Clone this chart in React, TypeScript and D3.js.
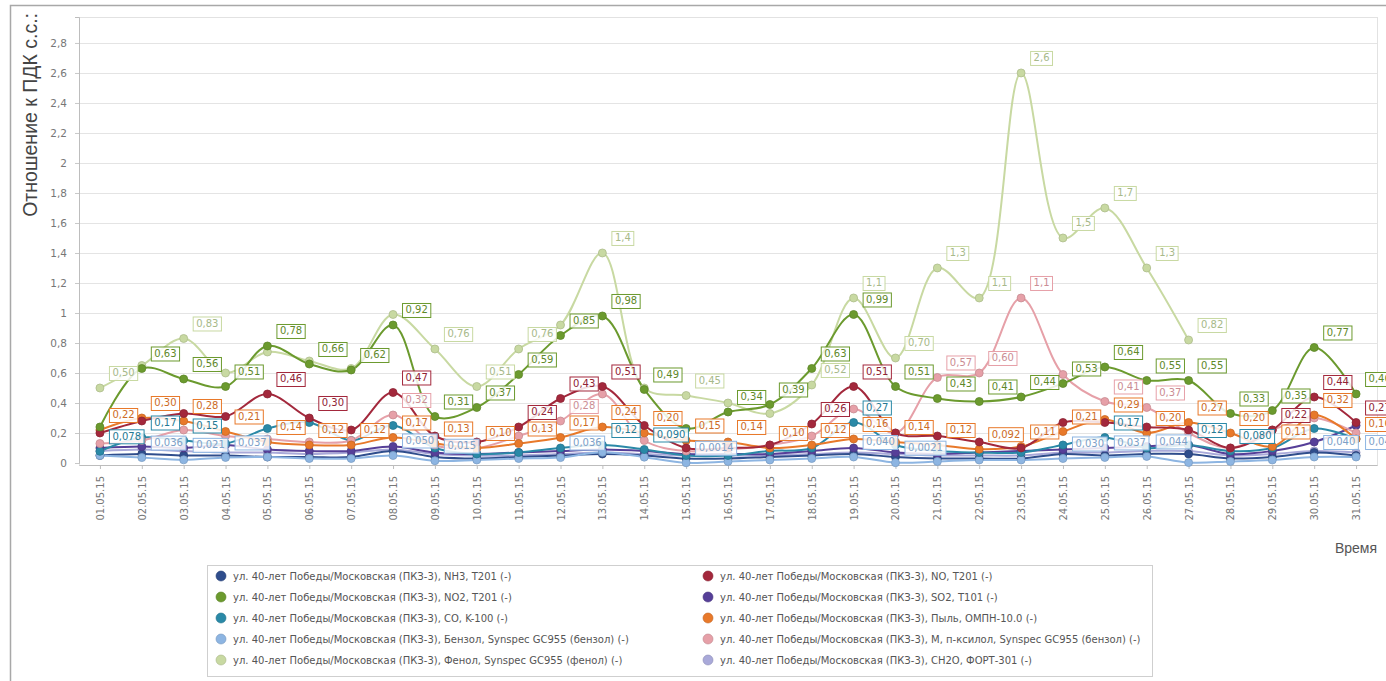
import React, { useEffect, useRef } from 'react';
import * as d3 from 'd3';

// x categories (days of May 2015)
const dates = [
  '01.05.15', '02.05.15', '03.05.15', '04.05.15', '05.05.15', '06.05.15', '07.05.15', '08.05.15',
  '09.05.15', '10.05.15', '11.05.15', '12.05.15', '13.05.15', '14.05.15', '15.05.15', '16.05.15',
  '17.05.15', '18.05.15', '19.05.15', '20.05.15', '21.05.15', '22.05.15', '23.05.15', '24.05.15',
  '25.05.15', '26.05.15', '27.05.15', '28.05.15', '29.05.15', '30.05.15', '31.05.15'
];

// ratio to MPC per substance
const nh3 = [0.05, 0.06, 0.05, 0.05, 0.04, 0.04, 0.04, 0.08, 0.04, 0.03, 0.04, 0.05, 0.06, 0.05, 0.03, 0.03, 0.04, 0.05, 0.06, 0.04, 0.03, 0.03, 0.03, 0.06, 0.05, 0.06, 0.06, 0.03, 0.04, 0.07, 0.05];
const no = [0.20, 0.28, 0.33, 0.31, 0.46, 0.30, 0.22, 0.47, 0.18, 0.14, 0.24, 0.43, 0.51, 0.25, 0.10, 0.10, 0.12, 0.26, 0.51, 0.20, 0.18, 0.14, 0.10, 0.27, 0.27, 0.24, 0.22, 0.10, 0.22, 0.44, 0.27];
const no2 = [0.24, 0.63, 0.56, 0.51, 0.78, 0.66, 0.62, 0.92, 0.31, 0.37, 0.59, 0.85, 0.98, 0.49, 0.23, 0.34, 0.39, 0.63, 0.99, 0.51, 0.43, 0.41, 0.44, 0.53, 0.64, 0.55, 0.55, 0.33, 0.35, 0.77, 0.46];
const so2 = [0.10, 0.11, 0.10, 0.12, 0.09, 0.08, 0.08, 0.11, 0.07, 0.06, 0.07, 0.08, 0.09, 0.08, 0.06, 0.06, 0.06, 0.08, 0.10, 0.07, 0.06, 0.07, 0.08, 0.09, 0.10, 0.11, 0.12, 0.06, 0.08, 0.14, 0.25];
const co = [0.078, 0.17, 0.15, 0.13, 0.23, 0.27, 0.15, 0.25, 0.10, 0.06, 0.07, 0.10, 0.12, 0.09, 0.05, 0.05, 0.08, 0.10, 0.27, 0.12, 0.08, 0.07, 0.07, 0.12, 0.17, 0.10, 0.12, 0.08, 0.10, 0.23, 0.16];
const dust = [0.22, 0.30, 0.28, 0.21, 0.14, 0.12, 0.12, 0.17, 0.13, 0.10, 0.13, 0.17, 0.24, 0.20, 0.15, 0.14, 0.10, 0.12, 0.16, 0.14, 0.12, 0.092, 0.11, 0.21, 0.29, 0.20, 0.27, 0.20, 0.11, 0.32, 0.16];
const benzene = [0.05, 0.036, 0.021, 0.037, 0.04, 0.03, 0.03, 0.05, 0.015, 0.02, 0.03, 0.036, 0.071, 0.039, 0.0014, 0.01, 0.02, 0.03, 0.04, 0.0021, 0.01, 0.02, 0.02, 0.030, 0.037, 0.044, 0.0031, 0.01, 0.02, 0.04, 0.04];
const xylene = [0.13, 0.15, 0.22, 0.18, 0.16, 0.14, 0.15, 0.32, 0.12, 0.10, 0.18, 0.28, 0.46, 0.15, 0.08, 0.09, 0.12, 0.18, 0.36, 0.20, 0.57, 0.60, 1.1, 0.59, 0.41, 0.37, 0.20, 0.10, 0.22, 0.30, 0.20];
const phenol = [0.50, 0.65, 0.83, 0.60, 0.74, 0.68, 0.63, 0.99, 0.76, 0.51, 0.76, 0.92, 1.4, 0.50, 0.45, 0.40, 0.33, 0.52, 1.1, 0.70, 1.3, 1.1, 2.6, 1.5, 1.7, 1.3, 0.82, null, null, null, null];
const ch2o = [0.08, 0.09, 0.08, 0.07, 0.07, 0.06, 0.07, 0.09, 0.06, 0.05, 0.05, 0.06, 0.07, 0.06, 0.05, 0.05, 0.05, 0.06, 0.07, 0.06, 0.05, 0.05, 0.05, 0.07, 0.07, 0.08, 0.08, 0.05, 0.06, 0.08, 0.07];

const prefix = 'ул. 40-лет Победы/Московская (ПКЗ-3), ';
const series = [
  { name: 'NH3, T201 (-)', values: nh3, color: '#2f4d8c' },
  { name: 'NO, T201 (-)', values: no, color: '#a3283c' },
  { name: 'NO2, T201 (-)', values: no2, color: '#6b9a2e' },
  { name: 'SO2, T101 (-)', values: so2, color: '#563f98' },
  { name: 'CO, K-100 (-)', values: co, color: '#2a89a7' },
  { name: 'Пыль, ОМПН-10.0 (-)', values: dust, color: '#e8792a' },
  { name: 'Бензол, Synspec GC955 (бензол) (-)', values: benzene, color: '#8db5e2' },
  { name: 'М, п-ксилол, Synspec GC955 (бензол) (-)', values: xylene, color: '#e6a0a8' },
  { name: 'Фенол, Synspec GC955 (фенол) (-)', values: phenol, color: '#c8d9a2' },
  { name: 'CH2O, ФОРТ-301 (-)', values: ch2o, color: '#a9a9d9' }
];

// legend is laid out column by column
const legendOrder = [0, 2, 4, 6, 8, 1, 3, 5, 7, 9];
// value labels: earlier series win when boxes collide
const labelOrder = [5, 2, 8, 1, 4, 7, 6, 3, 9, 0];
const drawOrder = [9, 0, 3, 6, 4, 7, 5, 1, 8, 2];

const locale = d3.formatLocale({ decimal: ',', thousands: ' ', grouping: [3], currency: ['', ''] });
const fmtTick = locale.format('.2~r');
const fmtLabel = locale.format('.2r');

const W = 1386;
const H = 681;
const plot = { left: 79, right: 1377, top: 17, bottom: 463 };
const yMax = 2.973;

const App = () => {
  const ref = useRef<SVGSVGElement>(null);

  useEffect(() => {
    const svg = d3.select(ref.current);
    svg.selectAll('*').remove();

    const x = d3.scalePoint<string>().domain(dates).range([plot.left, plot.right]).padding(0.5);
    const y = d3.scaleLinear().domain([0, yMax]).range([plot.bottom, plot.top]);

    // outer frame
    svg.append('path')
      .attr('d', `M10.5,${H} V5.5 H${W}`)
      .attr('fill', 'none')
      .attr('stroke', '#a8a8a8')
      .attr('stroke-width', 1.5);

    // plot box + grid
    svg.append('rect')
      .attr('x', plot.left + 0.5).attr('y', plot.top + 0.5)
      .attr('width', plot.right - plot.left).attr('height', plot.bottom - plot.top + 2)
      .attr('fill', 'none').attr('stroke', '#e2e2e2');

    const yTicks = y.ticks(15);
    svg.append('g').selectAll('line').data(yTicks.filter(t => t > 0)).join('line')
      .attr('x1', plot.left).attr('x2', plot.right)
      .attr('y1', d => Math.round(y(d)) + 0.5).attr('y2', d => Math.round(y(d)) + 0.5)
      .attr('stroke', '#e4e4e4');

    // y axis
    const yAxis = svg.append('g').attr('transform', `translate(${plot.left},0)`)
      .call(d3.axisLeft(y).tickValues(yTicks).tickFormat(d => fmtTick(d as number)).tickSize(4).tickPadding(8));
    yAxis.select('.domain').attr('stroke', '#bdbdbd');
    yAxis.selectAll('.tick line').attr('stroke', '#c8c8c8');
    yAxis.selectAll('.tick text').attr('fill', '#777').style('font', '10.5px "DejaVu Sans"');

    // x axis
    const xAxis = svg.append('g').attr('transform', `translate(0,${plot.bottom + 2})`)
      .call(d3.axisBottom(x).tickSize(4).tickSizeOuter(0));
    xAxis.select('.domain').attr('stroke', '#bdbdbd');
    xAxis.selectAll('.tick line').attr('stroke', '#bdbdbd');
    xAxis.selectAll('.tick text')
      .attr('fill', '#777')
      .style('font', '10px "DejaVu Sans"')
      .attr('text-anchor', 'end')
      .attr('transform', 'rotate(-90)')
      .attr('x', -11).attr('y', 0).attr('dy', '0.35em');

    // axis titles
    svg.append('text')
      .attr('transform', 'translate(37,13) rotate(-90)')
      .attr('text-anchor', 'end')
      .attr('fill', '#444')
      .style('font', '19.5px "Liberation Sans"')
      .text('Отношение к ПДК с.с.:');
    svg.append('text')
      .attr('x', plot.right).attr('y', 553)
      .attr('text-anchor', 'end')
      .attr('fill', '#555')
      .style('font', '14px "Liberation Sans"')
      .text('Время');

    // lines
    const line = d3.line<number | null>()
      .defined(d => d != null)
      .x((d, i) => x(dates[i]) as number)
      .y(d => y(d as number))
      .curve(d3.curveCatmullRom.alpha(0.5));

    const linesG = svg.append('g');
    drawOrder.forEach(si => {
      const s = series[si];
      linesG.append('path')
        .attr('d', line(s.values))
        .attr('fill', 'none')
        .attr('stroke', s.color)
        .attr('stroke-width', 2);
    });
    drawOrder.forEach(si => {
      const s = series[si];
      linesG.append('g').selectAll('circle')
        .data(s.values.map((v, i) => ({ v, i })).filter(d => d.v != null))
        .join('circle')
        .attr('cx', d => x(dates[d.i]) as number)
        .attr('cy', d => y(d.v as number))
        .attr('r', 4)
        .attr('fill', s.color)
        .attr('stroke', d3.color(s.color)!.darker(0.4).toString())
        .attr('stroke-width', 0.8);
    });

    // point labels, skipping ones that would collide
    const pad = 2;
    const placed: { x0: number; y0: number; x1: number; y1: number }[] = [];
    const labelsG = svg.append('g');
    labelOrder.forEach(si => {
      const s = series[si];
      s.values.forEach((v, i) => {
        if (v == null) return;
        const px = x(dates[i]) as number;
        const py = y(v);
        const g = labelsG.append('g');
        const rect = g.append('rect');
        const t = g.append('text')
          .attr('fill', si === 8 ? '#a7b98a' : d3.color(s.color)!.darker(0.35).toString())
          .style('font', '10px "DejaVu Sans"')
          .text(fmtLabel(v));
        const tw = (t.node() as SVGTextElement).getComputedTextLength();
        const box = { x0: px + 9, y0: py - 22, x1: px + 9 + tw + 6, y1: py - 8 };
        const hit = placed.some(b =>
          b.x0 - pad < box.x1 && box.x0 < b.x1 + pad && b.y0 - pad < box.y1 && box.y0 < b.y1 + pad);
        if (hit) { g.remove(); return; }
        placed.push(box);
        rect.attr('x', box.x0 + 0.5).attr('y', box.y0 + 0.5)
          .attr('width', box.x1 - box.x0).attr('height', box.y1 - box.y0)
          .attr('fill', '#fff').attr('fill-opacity', 0.85)
          .attr('stroke', s.color);
        t.attr('x', box.x0 + 3.5).attr('y', box.y1 - 3.5);
      });
    });

    // legend
    const lg = svg.append('g');
    lg.append('rect')
      .attr('x', 207.5).attr('y', 565.5).attr('width', 945).attr('height', 111)
      .attr('fill', '#fff').attr('stroke', '#cfcfcf');
    legendOrder.forEach((si, k) => {
      const col = Math.floor(k / 5);
      const row = k % 5;
      const lx = col === 0 ? 221 : 708;
      const ly = 576 + row * 21;
      lg.append('circle')
        .attr('cx', lx).attr('cy', ly).attr('r', 5)
        .attr('fill', series[si].color)
        .attr('stroke', d3.color(series[si].color)!.darker(0.5).toString())
        .attr('stroke-width', 0.6);
      lg.append('text')
        .attr('x', lx + 12).attr('y', ly).attr('dy', '0.35em')
        .attr('fill', '#555')
        .style('font', '10px "DejaVu Sans"')
        .text(prefix + series[si].name);
    });
  }, []);

  return (
    <svg ref={ref} width={W} height={H} style={{ position: 'absolute', left: 0, top: 0, background: '#fff' }} />
  );
};

export default App;
